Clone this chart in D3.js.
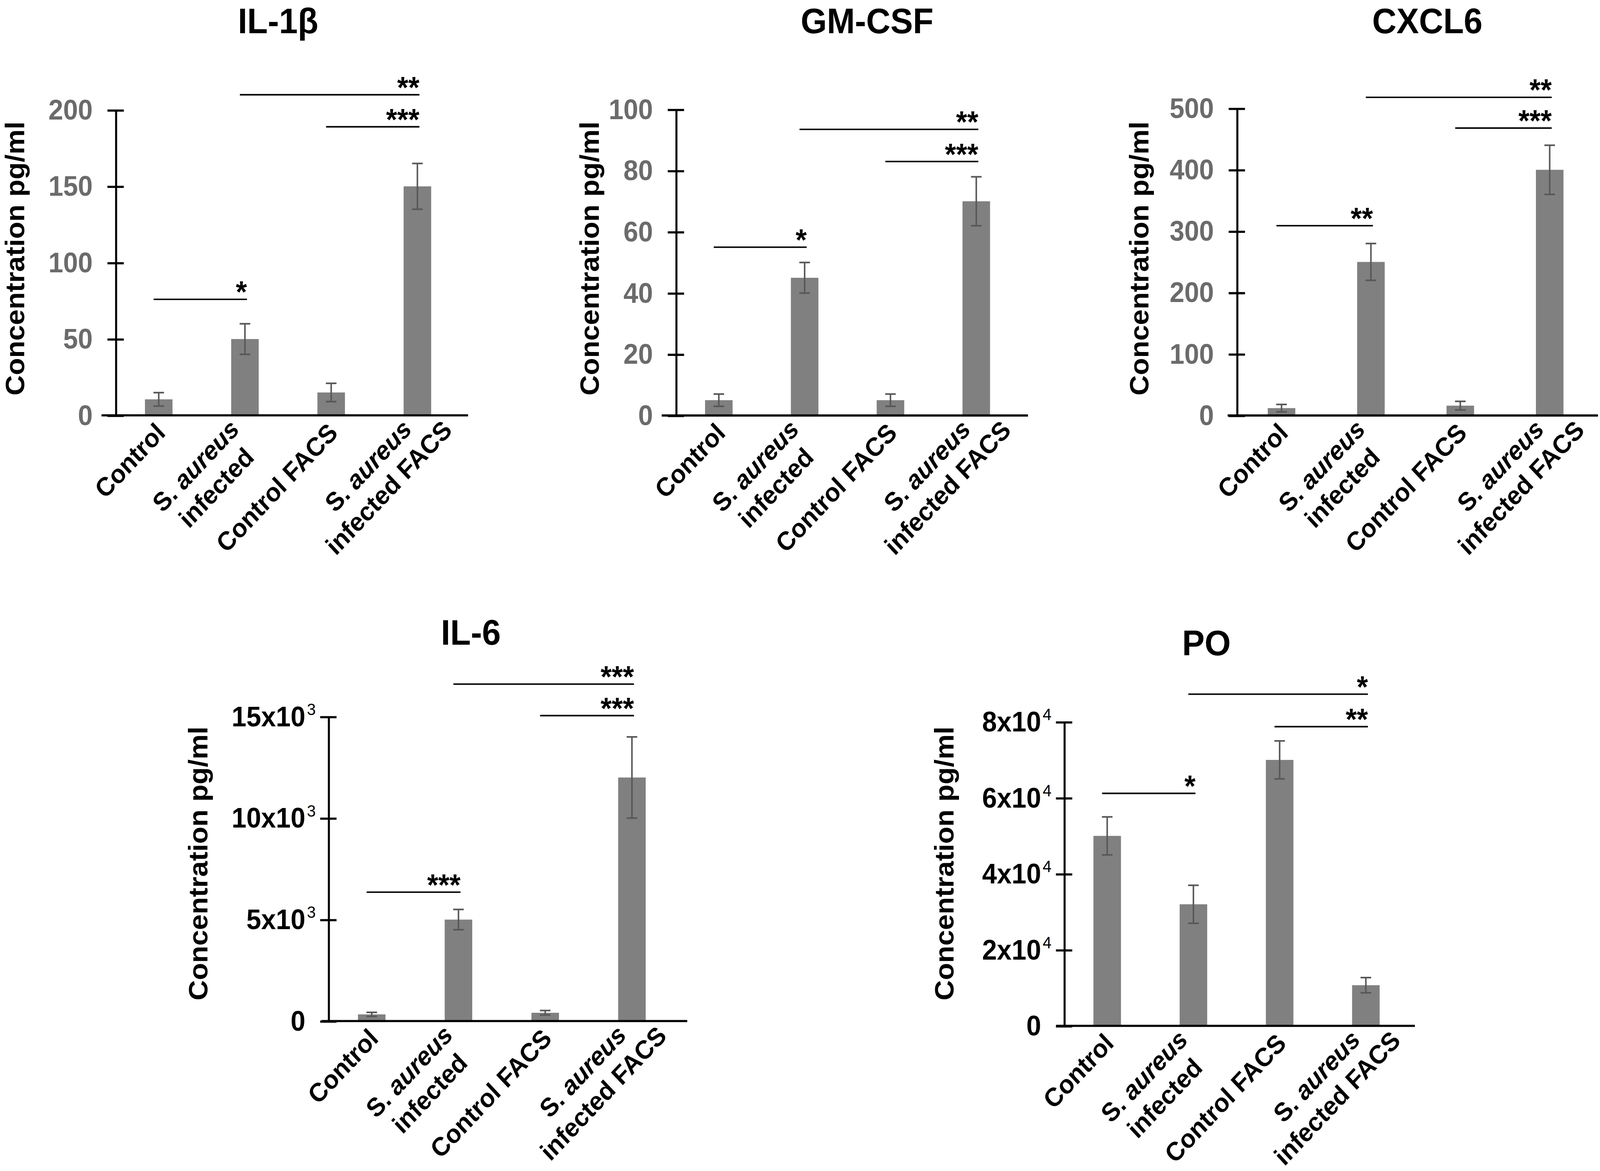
<!DOCTYPE html>
<html lang="en">
<head>
<meta charset="utf-8">
<script src="https://d3js.org/d3.v7.min.js"></script>
<style>
html, body { margin: 0; padding: 0; background: #fff; overflow: hidden; }
svg { display: block; background: #fff; width: 100vw; height: 100vh; }
</style>
<title>Cytokine concentrations</title>
</head>
<body>
<script>
// shared categories; _text_ marks the italic part of a label line
var categories = ["Control", "S. aureus infected", "Control FACS", "S. aureus infected FACS"];
var labelLines = [["Control"], ["S. _aureus_", "infected"], ["Control FACS"], ["S. _aureus_", "infected FACS"]];

// IL-1b
var il1bMean = [10.5, 50, 15, 150];
var il1bErr = [4.4, 10, 6, 15];
var il1bTicks = [0, 50, 100, 150, 200];
var il1bTickText = ["0", "50", "100", "150", "200"];
var il1bSig = [["Control", "S. aureus infected", 76, "*"],
               ["Control FACS", "S. aureus infected FACS", 189, "***"],
               ["S. aureus infected", "S. aureus infected FACS", 210, "**"]];

// GM-CSF
var gmMean = [5, 45, 5, 70];
var gmErr = [2, 5, 2, 8];
var gmTicks = [0, 20, 40, 60, 80, 100];
var gmTickText = ["0", "20", "40", "60", "80", "100"];
var gmSig = [["Control", "S. aureus infected", 55, "*"],
             ["Control FACS", "S. aureus infected FACS", 83, "***"],
             ["S. aureus infected", "S. aureus infected FACS", 93.5, "**"]];

// CXCL6
var cxMean = [12, 250, 16, 400];
var cxErr = [6, 30, 7, 40];
var cxTicks = [0, 100, 200, 300, 400, 500];
var cxTickText = ["0", "100", "200", "300", "400", "500"];
var cxSig = [["Control", "S. aureus infected", 309, "**"],
             ["Control FACS", "S. aureus infected FACS", 468, "***"],
             ["S. aureus infected", "S. aureus infected FACS", 518, "**"]];

// IL-6
var il6Mean = [330, 5000, 410, 12000];
var il6Err = [100, 500, 110, 2000];
var il6Ticks = [0, 5000, 10000, 15000];
var il6TickText = ["0", "5x10^3", "10x10^3", "15x10^3"];
var il6Sig = [["Control", "S. aureus infected", 6350, "***"],
              ["Control FACS", "S. aureus infected FACS", 15050, "***"],
              ["S. aureus infected", "S. aureus infected FACS", 16600, "***"]];

// PO
var poMean = [50000, 32000, 70000, 10700];
var poErr = [5000, 5000, 5000, 2000];
var poTicks = [0, 20000, 40000, 60000, 80000];
var poTickText = ["0", "2x10^4", "4x10^4", "6x10^4", "8x10^4"];
var poSig = [["Control", "S. aureus infected", 61200, "*"],
             ["Control FACS", "S. aureus infected FACS", 78750, "**"],
             ["S. aureus infected", "S. aureus infected FACS", 87300, "*"]];

var FONT = "Liberation Sans, Arial, Helvetica, sans-serif";
var W = 1568, H = 1080.3;

// layout of each panel in the 1568-wide drawing frame
var panels = [
  {title: "IL-1\u03b2", mean: il1bMean, err: il1bErr, ticks: il1bTicks, tickText: il1bTickText, sig: il1bSig,
   ax: 113.3, step: 84.5, y0: 383.2, y1: 101.5, extL: 13.8, extR: 7.4, tickColor: "#6b6b6b",
   labX: 14.5, labY: 238.5, tx: 272.5, ty: 30.5},
  {title: "GM-CSF", mean: gmMean, err: gmErr, ticks: gmTicks, tickText: gmTickText, sig: gmSig,
   ax: 662.4, step: 84.1, y0: 383.3, y1: 101, extL: 13.9, extR: 8.6, tickColor: "#6b6b6b",
   labX: 577.7, labY: 238.5, tx: 849.7, ty: 30.5},
  {title: "CXCL6", mean: cxMean, err: cxErr, ticks: cxTicks, tickText: cxTickText, sig: cxSig,
   ax: 1212.1, step: 87.6, y0: 383.3, y1: 100, extL: 9, extR: 3.5, tickColor: "#6b6b6b",
   labX: 1116.4, labY: 238.5, tx: 1398.8, ty: 30.5},
  {title: "IL-6", mean: il6Mean, err: il6Err, ticks: il6Ticks, tickText: il6TickText, sig: il6Sig,
   ax: 321.8, step: 85, y0: 942, y1: 661.1, extL: 6.9, extR: 11.7, tickColor: "#000",
   labX: 194, labY: 796.6, tx: 461.4, ty: 594.7},
  {title: "PO", mean: poMean, err: poErr, ticks: poTicks, tickText: poTickText, sig: poSig,
   ax: 1042.8, step: 84.5, y0: 946.4, y1: 666, extL: 7.8, extR: 5.8, tickColor: "#000",
   labX: 925.5, labY: 796.6, tx: 1182.3, ty: 604.4}
];

var svg = d3.select("body").append("svg")
    .attr("viewBox", "0 0 " + W + " " + H)
    .attr("preserveAspectRatio", "none")
    .style("font-family", FONT)
    .style("font-weight", "bold");

svg.append("rect").attr("width", W).attr("height", H).attr("fill", "#fff");

var barW = 27;
var labSize = 24, lineGap = 28.5;

// writes one label line, italic parts as nested tspans
function addLine(sel, line) {
  line.split("_").forEach(function(part, k) {
    if (!part) return;
    sel.append("tspan")
      .attr("font-style", k % 2 ? "italic" : null)
      .text(part);
  });
}

panels.forEach(function(p) {
  var g = svg.append("g");
  var pad = 1 - barW / p.step;
  var x = d3.scaleBand()
      .domain(categories)
      .range([p.ax, p.ax + categories.length * p.step])
      .paddingInner(pad)
      .paddingOuter(pad / 2);
  var y = d3.scaleLinear().domain([0, d3.max(p.ticks)]).range([p.y0, p.y1]);
  var cx = function(c) { return x(c) + x.bandwidth() / 2; };

  // bars
  g.selectAll("rect.bar")
    .data(categories)
    .join("rect")
      .attr("class", "bar")
      .attr("x", function(d) { return x(d); })
      .attr("y", function(d, i) { return y(p.mean[i]); })
      .attr("width", x.bandwidth())
      .attr("height", function(d, i) { return y(0) - y(p.mean[i]); })
      .attr("fill", "#808080");

  // error bars
  var eb = g.selectAll("g.err")
    .data(categories)
    .join("g")
      .attr("class", "err")
      .attr("stroke", "#585858")
      .attr("stroke-width", 1.5);
  eb.append("line")
    .attr("x1", cx).attr("x2", cx)
    .attr("y1", function(d, i) { return y(p.mean[i] - p.err[i]); })
    .attr("y2", function(d, i) { return y(p.mean[i] + p.err[i]); });
  [-1, 1].forEach(function(sgn) {
    eb.append("line")
      .attr("x1", function(d) { return cx(d) - 5.2; })
      .attr("x2", function(d) { return cx(d) + 5.2; })
      .attr("y1", function(d, i) { return y(p.mean[i] + sgn * p.err[i]); })
      .attr("y2", function(d, i) { return y(p.mean[i] + sgn * p.err[i]); });
  });

  // y axis
  var ya = g.append("g")
      .attr("transform", "translate(" + p.ax + ",0)")
      .call(d3.axisLeft(y)
        .tickValues(p.ticks)
        .tickSize(8)
        .tickSizeOuter(0)
        .tickPadding(14.5)
        .tickFormat(function(d) { return p.tickText[p.ticks.indexOf(d)].split("^")[0]; }))
      .attr("font-family", FONT)
      .attr("font-size", 26)
      .attr("font-weight", "bold");
  ya.select(".domain").attr("stroke", "#000").attr("stroke-width", 2);
  ya.selectAll(".tick line").attr("x1", 8).attr("stroke", "#000").attr("stroke-width", 2);
  ya.selectAll(".tick text").attr("fill", p.tickColor);
  ya.selectAll(".tick").each(function(d) {
    var parts = p.tickText[p.ticks.indexOf(d)].split("^");
    if (parts.length > 1) {
      d3.select(this).append("text")
        .attr("x", -21)
        .attr("y", -2)
        .attr("text-anchor", "start")
        .attr("font-size", 15.5)
        .attr("font-weight", "normal")
        .attr("fill", p.tickColor)
        .text(parts[1]);
    }
  });

  // x axis line
  g.append("line")
    .attr("x1", x.range()[0] - p.extL)
    .attr("x2", x.range()[1] + p.extR)
    .attr("y1", y(0)).attr("y2", y(0))
    .attr("stroke", "#000")
    .attr("stroke-width", 2);

  // category labels, rotated; extra lines centred on the first one
  categories.forEach(function(c, i) {
    var lines = labelLines[i];
    var lg = g.append("g")
      .attr("transform", "translate(" + cx(c) + "," + y(0) + ") rotate(-45)")
      .attr("font-size", labSize)
      .attr("fill", "#000");
    if (lines.length === 1) {
      addLine(lg.append("text").attr("x", -6.9).attr("y", 17.8).attr("text-anchor", "end"), lines[0]);
    } else {
      var first = lg.append("text").attr("x", -13).attr("y", 7).attr("text-anchor", "end");
      addLine(first, lines[0]);
      var mid = -13 - first.node().getComputedTextLength() / 2;
      lines.slice(1).forEach(function(line, j) {
        addLine(lg.append("text")
          .attr("x", mid)
          .attr("y", 7 + (j + 1) * lineGap)
          .attr("text-anchor", "middle"), line);
      });
    }
  });

  // significance bars
  p.sig.forEach(function(s) {
    var xa = cx(s[0]) - 5, xb = cx(s[1]) + 2, yy = y(s[2]);
    g.append("line")
      .attr("x1", xa).attr("x2", xb)
      .attr("y1", yy).attr("y2", yy)
      .attr("stroke", "#000")
      .attr("stroke-width", 1.4);
    g.append("text")
      .attr("x", xb)
      .attr("y", yy + 3)
      .attr("text-anchor", "end")
      .attr("font-size", 28)
      .attr("fill", "#000")
      .text(s[3]);
  });

  // axis title and panel title
  g.append("text")
    .attr("transform", "translate(" + p.labX + "," + p.labY + ") rotate(-90)")
    .attr("text-anchor", "middle")
    .attr("dy", "0.35em")
    .attr("font-size", 26)
    .attr("fill", "#000")
    .text("Concentration pg/ml");

  g.append("text")
    .attr("x", p.tx)
    .attr("y", p.ty)
    .attr("text-anchor", "middle")
    .attr("font-size", 33)
    .attr("fill", "#000")
    .text(p.title);
});
</script>
</body>
</html>
